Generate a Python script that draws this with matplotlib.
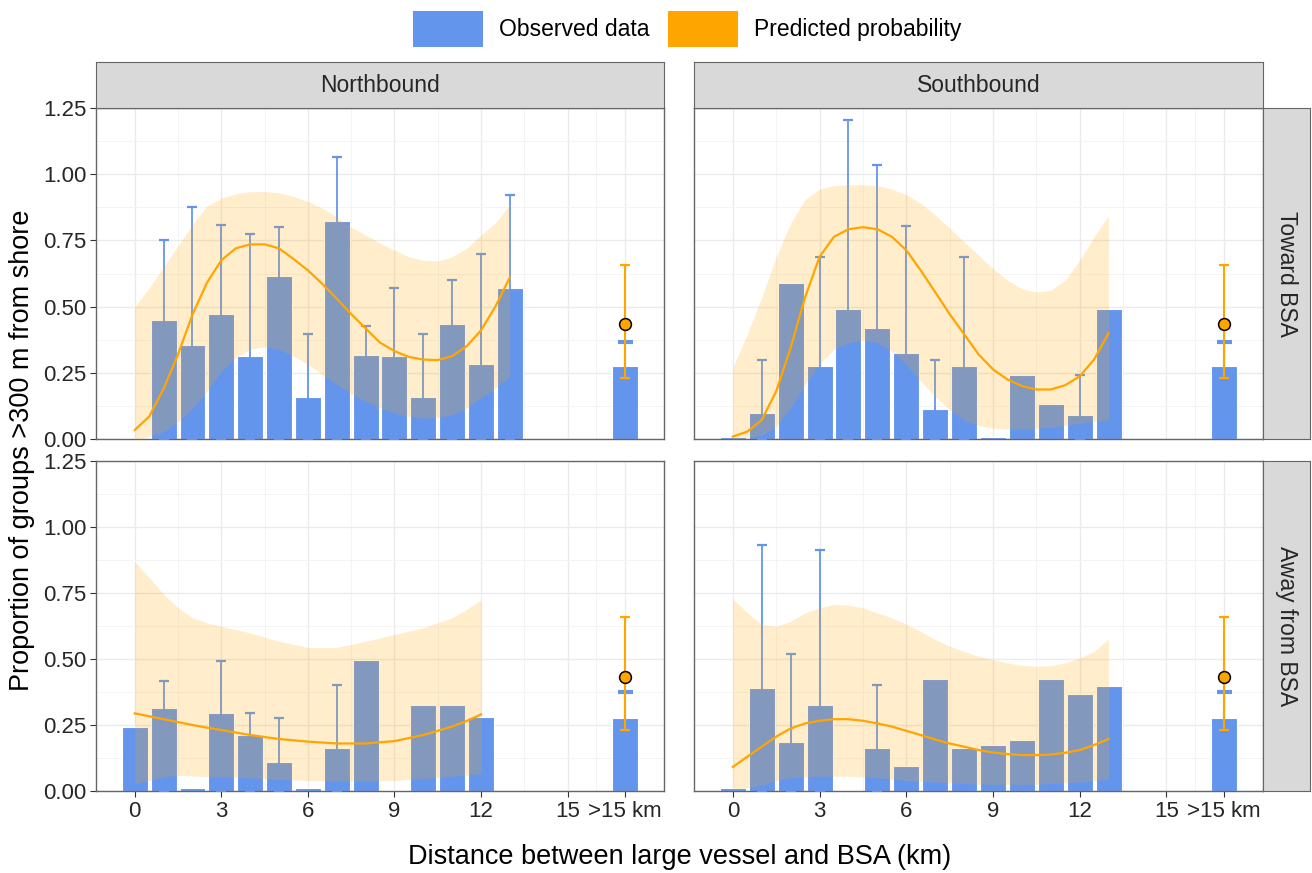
import numpy as np
import matplotlib.pyplot as plt
from matplotlib.patches import Patch

plt.rcParams['font.family'] = ['Liberation Sans', 'DejaVu Sans']

BLUE = '#6495ED'
ORANGE = '#FFA500'
TXT = '#262626'

# bar positions: 0..13 km plus the ">15 km" class drawn at 17
positions = list(range(14)) + [17]
tick_pos = [0, 3, 6, 9, 12, 15, 17]
tick_labels = ['0', '3', '6', '9', '12', '15', '>15 km']

cols = ['Northbound', 'Southbound']
rows = ['Toward BSA', 'Away from BSA']

# observed proportions
obs_nt = [0.005, 0.449, 0.354, 0.472, 0.312, 0.615, 0.159, 0.825, 0.316, 0.312, 0.157, 0.434, 0.282, 0.570, 0.275]
obs_st = [0.009, 0.10, 0.591, 0.275, 0.491, 0.42, 0.324, 0.115, 0.275, 0.009, 0.24, 0.133, 0.09, 0.491, 0.275]
obs_na = [0.244, 0.313, 0.013, 0.297, 0.214, 0.11, 0.013, 0.161, 0.495, 0.004, 0.327, 0.327, 0.279, 0.0, 0.278]
obs_sa = [0.013, 0.391, 0.185, 0.327, 0.005, 0.161, 0.094, 0.424, 0.161, 0.176, 0.195, 0.424, 0.369, 0.396, 0.278]

# upper limits of the observed error bars (None = no error bar)
err_nt = [None, 0.751, 0.876, 0.807, 0.773, 0.801, 0.398, 1.066, 0.428, 0.570, 0.398, 0.599, 0.70, 0.921, 0.367]
err_st = [None, 0.30, None, 0.688, 1.206, 1.034, 0.803, 0.298, 0.688, None, None, None, 0.24, None, 0.367]
err_na = [None, 0.417, None, 0.494, 0.294, 0.278, None, 0.402, None, None, None, None, None, None, 0.376]
err_sa = [None, 0.93, 0.52, 0.912, None, 0.402, None, None, None, None, None, None, None, None, 0.376]

# predicted probability curves and ribbons
xp_nt = [0, 0.5, 1, 1.5, 2, 2.5, 3, 3.5, 4, 4.5, 5, 5.5, 6, 6.5, 7, 7.5, 8, 8.5, 9, 9.5, 10, 10.5, 11, 11.5, 12, 12.5, 13]
fit_nt = [0.034, 0.085, 0.19, 0.32, 0.47, 0.59, 0.675, 0.72, 0.735, 0.735, 0.72, 0.68, 0.637, 0.586, 0.53, 0.472, 0.418, 0.364, 0.332, 0.31, 0.30, 0.298, 0.313, 0.35, 0.41, 0.50, 0.61]
hi_nt = [0.50, 0.57, 0.65, 0.73, 0.81, 0.88, 0.91, 0.926, 0.934, 0.934, 0.93, 0.916, 0.897, 0.872, 0.84, 0.80, 0.77, 0.74, 0.713, 0.688, 0.675, 0.672, 0.688, 0.72, 0.77, 0.815, 0.885]
lo_nt = [0.0, 0.01, 0.028, 0.066, 0.117, 0.18, 0.256, 0.307, 0.339, 0.348, 0.339, 0.313, 0.282, 0.244, 0.206, 0.17, 0.142, 0.117, 0.098, 0.085, 0.079, 0.081, 0.091, 0.117, 0.155, 0.193, 0.237]

xp_st = xp_nt
fit_st = [0.009, 0.028, 0.072, 0.18, 0.345, 0.535, 0.688, 0.764, 0.792, 0.80, 0.792, 0.764, 0.713, 0.637, 0.555, 0.472, 0.396, 0.32, 0.263, 0.225, 0.20, 0.187, 0.187, 0.203, 0.237, 0.30, 0.40]
hi_st = [0.27, 0.396, 0.535, 0.688, 0.815, 0.904, 0.944, 0.957, 0.96, 0.96, 0.957, 0.944, 0.922, 0.89, 0.846, 0.796, 0.745, 0.694, 0.643, 0.60, 0.567, 0.555, 0.561, 0.60, 0.675, 0.764, 0.843]
lo_st = [0.0, 0.005, 0.015, 0.047, 0.117, 0.206, 0.282, 0.339, 0.364, 0.373, 0.364, 0.332, 0.282, 0.218, 0.161, 0.11, 0.072, 0.051, 0.041, 0.037, 0.037, 0.041, 0.043, 0.051, 0.06, 0.066, 0.072]

xp_na = [0, 0.5, 1, 1.5, 2, 2.5, 3, 4, 5, 6, 7, 8, 9, 10, 11, 11.5, 12]
fit_na = [0.294, 0.283, 0.272, 0.261, 0.25, 0.24, 0.231, 0.212, 0.197, 0.187, 0.18, 0.18, 0.189, 0.212, 0.244, 0.265, 0.29]
hi_na = [0.868, 0.808, 0.745, 0.694, 0.656, 0.637, 0.624, 0.599, 0.567, 0.544, 0.544, 0.567, 0.593, 0.618, 0.656, 0.688, 0.723]
lo_na = [0.028, 0.04, 0.053, 0.06, 0.057, 0.055, 0.053, 0.05, 0.044, 0.04, 0.038, 0.038, 0.04, 0.047, 0.056, 0.06, 0.066]

xp_sa = xp_nt
fit_sa = [0.091, 0.13, 0.168, 0.206, 0.237, 0.256, 0.266, 0.272, 0.272, 0.266, 0.256, 0.244, 0.228, 0.212, 0.195, 0.18, 0.168, 0.155, 0.146, 0.14, 0.136, 0.136, 0.138, 0.145, 0.155, 0.174, 0.197]
hi_sa = [0.728, 0.675, 0.631, 0.624, 0.643, 0.675, 0.694, 0.707, 0.704, 0.694, 0.675, 0.656, 0.631, 0.605, 0.574, 0.548, 0.529, 0.51, 0.497, 0.485, 0.476, 0.472, 0.475, 0.485, 0.504, 0.529, 0.576]
lo_sa = [0.003, 0.012, 0.022, 0.04, 0.05, 0.053, 0.056, 0.056, 0.056, 0.053, 0.05, 0.045, 0.04, 0.037, 0.034, 0.031, 0.028, 0.026, 0.025, 0.025, 0.025, 0.026, 0.028, 0.031, 0.034, 0.039, 0.044]

# overall predicted probability for >15 km
pred_far = 0.433
pred_far_lo = 0.232
pred_far_hi = 0.658

panels = {
    (0, 0): (obs_nt, err_nt, xp_nt, fit_nt, lo_nt, hi_nt),
    (0, 1): (obs_st, err_st, xp_st, fit_st, lo_st, hi_st),
    (1, 0): (obs_na, err_na, xp_na, fit_na, lo_na, hi_na),
    (1, 1): (obs_sa, err_sa, xp_sa, fit_sa, lo_sa, hi_sa),
}

W, H = 1312, 873
fig = plt.figure(figsize=(W / 100, H / 100), dpi=100)


def px_axes(left, top, right, bottom):
    return fig.add_axes([left / W, 1 - bottom / H, (right - left) / W, (bottom - top) / H])


col_x = [(96, 664), (694, 1263)]
row_y = [(108, 439), (461, 791)]

for (r, c), (obs, err, xp, fit, lo, hi) in panels.items():
    x0, x1 = col_x[c]
    y0, y1 = row_y[r]
    ax = px_axes(x0, y0, x1, y1)

    ax.bar(positions, obs, width=0.9, color=BLUE, edgecolor='white', linewidth=0.8, zorder=2)
    for p, v, e in zip(positions, obs, err):
        if e is None:
            continue
        if p == 17:
            ax.plot([p, p], [v, e], color=BLUE, lw=1.5, zorder=3, solid_capstyle='butt')
            ax.plot([p - 0.26, p + 0.26], [e, e], color=BLUE, lw=3.0, zorder=3, solid_capstyle='butt')
        else:
            ax.errorbar(p, 0, yerr=[[0], [e]], fmt='none', ecolor=BLUE, elinewidth=1.3,
                        capsize=3.4, capthick=1.6, zorder=3)

    ax.fill_between(xp, lo, hi, color=ORANGE, alpha=0.2, linewidth=0, zorder=4)
    ax.plot(xp, fit, color=ORANGE, lw=1.6, zorder=5)
    ax.errorbar(17, pred_far, yerr=[[pred_far - pred_far_lo], [pred_far_hi - pred_far]],
                fmt='none', ecolor=ORANGE, elinewidth=1.5, capsize=3.4, capthick=1.6, zorder=6)
    ax.plot(17, pred_far, 'o', ms=8.5, mfc=ORANGE, mec='black', mew=1.1, zorder=7)

    ax.set_xlim(-1.345, 18.345)
    ax.set_ylim(0, 1.25)
    ax.set_xticks(tick_pos)
    ax.set_xticks([1.5, 4.5, 7.5, 10.5, 13.5, 16], minor=True)
    ax.set_yticks([0, 0.25, 0.5, 0.75, 1.0, 1.25])
    ax.set_yticks([0.125, 0.375, 0.625, 0.875, 1.125], minor=True)
    ax.grid(True, which='major', color='#EBEBEB', lw=1.0, zorder=0)
    ax.grid(True, which='minor', color='#F3F3F3', lw=0.6, zorder=0)
    ax.set_axisbelow(True)
    for s in ax.spines.values():
        s.set_color('#666666')
        s.set_linewidth(1.0)
    ax.tick_params(which='minor', length=0)
    ax.tick_params(which='major', length=4, color='#333333', width=0.8,
                   labelsize=16, labelcolor=TXT, pad=3)

    if r == 0:
        ax.tick_params(axis='x', which='major', length=0, labelbottom=False)
    else:
        ax.set_xticklabels(tick_labels)
    if c == 0:
        ax.set_yticklabels(['0.00', '0.25', '0.50', '0.75', '1.00', '1.25'])
    else:
        ax.tick_params(axis='y', which='major', length=0, labelleft=False)

# strips
for c, name in enumerate(cols):
    x0, x1 = col_x[c]
    sax = px_axes(x0, 62, x1, 108)
    sax.set_facecolor('#D9D9D9')
    sax.set_xticks([])
    sax.set_yticks([])
    for s in sax.spines.values():
        s.set_color('#666666')
    sax.text(0.5, 0.5, name, ha='center', va='center', fontsize=16.5, color=TXT, transform=sax.transAxes)

for r, name in enumerate(rows):
    y0, y1 = row_y[r]
    sax = px_axes(1263, y0, 1310, y1)
    sax.set_facecolor('#D9D9D9')
    sax.set_xticks([])
    sax.set_yticks([])
    for s in sax.spines.values():
        s.set_color('#666666')
    sax.text(0.5, 0.5, name, ha='center', va='center', rotation=-90, fontsize=16.5, color=TXT,
             transform=sax.transAxes)

fig.text(22 / W, 1 - 450 / H, 'Proportion of groups >300 m from shore', rotation=90,
         ha='center', va='center', fontsize=19.5, color='black')
fig.text(680 / W, 1 - 857 / H, 'Distance between large vessel and BSA (km)',
         ha='center', va='center', fontsize=19.5, color='black')

handles = [Patch(facecolor=BLUE, edgecolor='none'), Patch(facecolor=ORANGE, edgecolor='none')]
fig.legend(handles, ['Observed data', 'Predicted probability'], loc='center',
           bbox_to_anchor=(687 / W, 1 - 29 / H), ncol=2, frameon=False, fontsize=16.5,
           handlelength=3.05, handleheight=2.0, handletextpad=0.7, columnspacing=0.8)

fig.savefig('out.png', dpi=100)
